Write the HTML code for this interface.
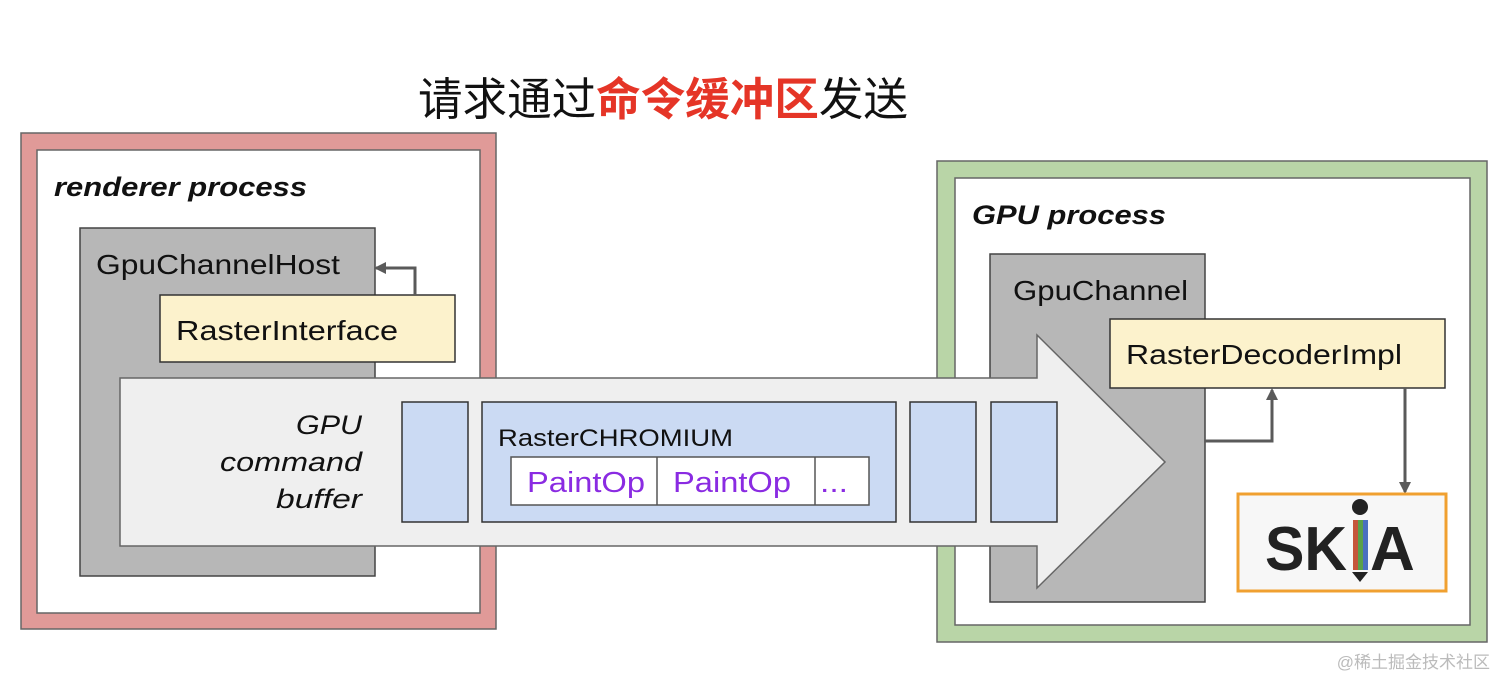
<!DOCTYPE html>
<html><head><meta charset="utf-8"><style>
html,body{margin:0;padding:0;background:#fff;width:1512px;height:690px;overflow:hidden}
text{font-family:"Liberation Sans","Noto Sans CJK SC",sans-serif}
</style></head><body>
<svg width="1512" height="690" viewBox="0 0 1512 690" xmlns="http://www.w3.org/2000/svg">
<defs>
<marker id="ah" markerWidth="12" markerHeight="12" refX="10" refY="6" orient="auto" markerUnits="userSpaceOnUse" viewBox="0 0 12 12"><path d="M0,0 L12,6 L0,12 z" fill="#5a5a5a"/></marker>
</defs>
<text x="418" y="115" font-size="45" font-family="Noto Sans CJK SC, sans-serif" fill="#111" textLength="490" lengthAdjust="spacingAndGlyphs">请求通过<tspan fill="#e53527" font-weight="bold">命令缓冲区</tspan>发送</text>

<!-- renderer process -->
<rect x="21" y="133" width="475" height="496" fill="#e09a98" stroke="#666" stroke-width="1.5"/>
<rect x="37" y="150" width="443" height="463" fill="#fff" stroke="#666" stroke-width="1.5"/>
<text x="54" y="196" font-size="27" font-style="italic" font-weight="bold" fill="#111" textLength="253" lengthAdjust="spacingAndGlyphs">renderer process</text>
<rect x="80" y="228" width="295" height="348" fill="#b7b7b7" stroke="#444" stroke-width="1.5"/>
<text x="96" y="274" font-size="28" fill="#111" textLength="244" lengthAdjust="spacingAndGlyphs">GpuChannelHost</text>
<rect x="160" y="295" width="295" height="67" fill="#fcf2cc" stroke="#333" stroke-width="1.5"/>
<text x="176" y="340" font-size="28" fill="#111" textLength="222" lengthAdjust="spacingAndGlyphs">RasterInterface</text>
<polyline points="415,295 415,268 376,268" fill="none" stroke="#5a5a5a" stroke-width="3" marker-end="url(#ah)"/>

<!-- GPU process -->
<rect x="937" y="161" width="550" height="481" fill="#b9d5a7" stroke="#666" stroke-width="1.5"/>
<rect x="955" y="178" width="515" height="447" fill="#fff" stroke="#666" stroke-width="1.5"/>
<text x="972" y="224" font-size="27" font-style="italic" font-weight="bold" fill="#111" textLength="194" lengthAdjust="spacingAndGlyphs">GPU process</text>
<rect x="990" y="254" width="215" height="348" fill="#b7b7b7" stroke="#444" stroke-width="1.5"/>
<text x="1013" y="300" font-size="28" fill="#111" textLength="175" lengthAdjust="spacingAndGlyphs">GpuChannel</text>

<!-- big arrow -->
<path d="M120,378 L1037,378 L1037,335 L1165,462 L1037,588 L1037,546 L120,546 Z" fill="#efefef" stroke="#666" stroke-width="1.5"/>
<text x="296" y="434" font-size="27" font-style="italic" fill="#111" textLength="66" lengthAdjust="spacingAndGlyphs">GPU</text>
<text x="220" y="471" font-size="27" font-style="italic" fill="#111" textLength="142" lengthAdjust="spacingAndGlyphs">command</text>
<text x="276" y="508" font-size="27" font-style="italic" fill="#111" textLength="86" lengthAdjust="spacingAndGlyphs">buffer</text>
<rect x="402" y="402" width="66" height="120" fill="#cbdaf3" stroke="#333" stroke-width="1.5"/>
<rect x="482" y="402" width="414" height="120" fill="#cbdaf3" stroke="#333" stroke-width="1.5"/>
<rect x="910" y="402" width="66" height="120" fill="#cbdaf3" stroke="#333" stroke-width="1.5"/>
<rect x="991" y="402" width="66" height="120" fill="#cbdaf3" stroke="#333" stroke-width="1.5"/>
<text x="498" y="446" font-size="24" fill="#111" textLength="235" lengthAdjust="spacingAndGlyphs">RasterCHROMIUM</text>
<rect x="511" y="457" width="358" height="48" fill="#fff" stroke="#555" stroke-width="1.5"/>
<line x1="657" y1="457" x2="657" y2="505" stroke="#555" stroke-width="1.5"/>
<line x1="815" y1="457" x2="815" y2="505" stroke="#555" stroke-width="1.5"/>
<text x="527" y="492" font-size="29" fill="#8a2be2" textLength="118" lengthAdjust="spacingAndGlyphs">PaintOp</text>
<text x="673" y="492" font-size="29" fill="#8a2be2" textLength="118" lengthAdjust="spacingAndGlyphs">PaintOp</text>
<text x="820" y="492" font-size="29" fill="#8a2be2" textLength="28" lengthAdjust="spacingAndGlyphs">...</text>

<!-- Raster decoder -->
<rect x="1110" y="319" width="335" height="69" fill="#fcf2cc" stroke="#333" stroke-width="1.5"/>
<text x="1126" y="364" font-size="28" fill="#111" textLength="276" lengthAdjust="spacingAndGlyphs">RasterDecoderImpl</text>
<polyline points="1205,441 1272,441 1272,390" fill="none" stroke="#5a5a5a" stroke-width="3" marker-end="url(#ah)"/>
<line x1="1405" y1="388" x2="1405" y2="492" stroke="#5a5a5a" stroke-width="3" marker-end="url(#ah)"/>

<!-- SKIA -->
<rect x="1238" y="494" width="208" height="97" fill="#f7f7f7" stroke="#f0a030" stroke-width="3"/>
<text x="1265" y="570" font-size="62" font-weight="bold" fill="#222" textLength="82" lengthAdjust="spacingAndGlyphs">SK</text>
<rect x="1353" y="520" width="5" height="50" fill="#c5553a"/>
<rect x="1358" y="520" width="5" height="50" fill="#5aa04a"/>
<rect x="1363" y="520" width="5" height="50" fill="#4a6fc0"/>
<circle cx="1360" cy="507" r="8" fill="#222"/>
<path d="M1352,572 L1368,572 L1360,582 Z" fill="#222"/>
<text x="1370" y="570" font-size="62" font-weight="bold" fill="#222">A</text>

<text x="1490" y="668" font-size="17" fill="#bbb" text-anchor="end" font-family="Noto Sans CJK SC, sans-serif">@稀土掘金技术社区</text>
</svg>
</body></html>
